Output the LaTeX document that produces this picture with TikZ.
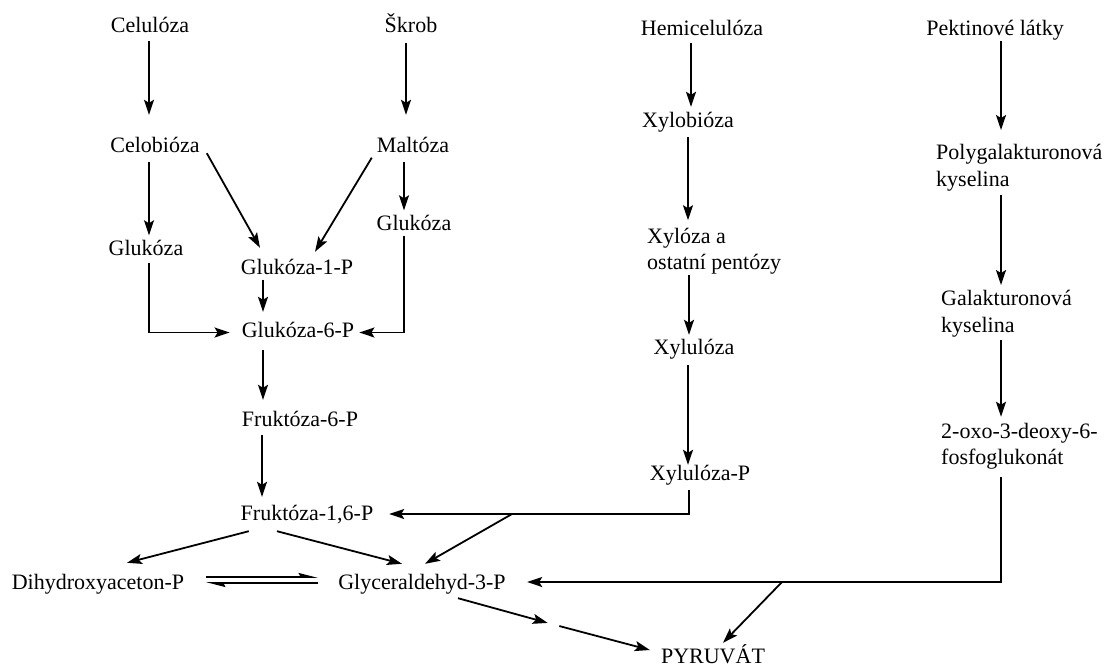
\documentclass[tikz,border=0pt]{standalone}
\usepackage{fontspec}
\setmainfont{Liberation Serif}
\usetikzlibrary{arrows.meta,positioning,calc}
\tikzstyle{substance}=[inner sep=0pt,text height=15pt,text depth=5pt,font=\fontsize{22}{26.5}\selectfont]
\tikzstyle{substance2}=[inner sep=0pt,align=left,anchor=west,font=\fontsize{22}{26.5}\selectfont]
\tikzstyle{reaction}=[line width=1.8pt,-{Stealth[length=15pt,width=10pt,inset=3pt]},shorten <=4pt,shorten >=5pt]
\tikzstyle{equil}=[line width=1.6pt,-{Stealth[harpoon,length=16pt,width=8pt,inset=2pt]}]

\begin{document}
\begin{tikzpicture}[x=1pt,y=-1pt]
      \useasboundingbox (0,0) rectangle (1108,670);
      % sources
      \node[substance] at (150,27.5) (celu) {Celulóza};
      \node[substance] at (411,27.5) (skrob) {Škrob};
      \node[substance] at (702,30.5) (hemi) {Hemicelulóza};
      \node[substance] at (995,30.5) (pekt) {Pektinové látky};
      % intermediates
      \node[substance] at (155,147.5) (celob) {Celobióza};
      \node[substance] at (413,147.5) (malt) {Maltóza};
      \node[substance] at (688,122.5) (xylob) {Xylobióza};
      \node[substance2] at (936,167.5) (polyg) {Polygalakturonová\\kyselina};
      \node[substance] at (146,250.5) (glukL) {Glukóza};
      \node[substance] at (414,225.5) (glukR) {Glukóza};
      \node[substance] at (297,269.5) (g1p) {Glukóza-1-P};
      \node[substance2] at (647,251) (xyl) {Xylóza a\\ostatní pentózy};
      \node[substance] at (298,332.5) (g6p) {Glukóza-6-P};
      \node[substance] at (694,349.5) (xylu) {Xylulóza};
      \node[substance2] at (941,313.5) (galak) {Galakturonová\\kyselina};
      \node[substance] at (300,421.5) (f6p) {Fruktóza-6-P};
      \node[substance2] at (941,446) (kdpg) {2-oxo-3-deoxy-6-\\fosfoglukonát};
      \node[substance] at (700,475.5) (xylup) {Xylulóza-P};
      \node[substance] at (307,515.5) (f16p) {Fruktóza-1,6-P};
      \node[substance] at (98,584.5) (dhap) {Dihydroxyaceton-P};
      \node[substance] at (422,584.5) (gap) {Glyceraldehyd-3-P};
      \node[substance,text depth=0pt] at (713,656) (pyr) {PYRUVÁT};
      \coordinate (jxyl) at (512,514);
      \coordinate (joxo) at (782,582);
      \coordinate (mezi) at (553.5,624.5);
      % cellulose and starch
      \draw[reaction,shorten <=3.5pt,shorten >=22.5pt] ([xshift=-1pt]celu.south) -- ([xshift=-1pt]celu.south |- celob.north);
      \draw[reaction,shorten <=5.5pt,shorten >=22.5pt] ([xshift=-5pt]skrob.south) -- ([xshift=-5pt]skrob.south |- malt.north);
      \draw[reaction] ([xshift=-6pt]celob.south) -- ([xshift=-6pt]celob.south |- glukL.north);
      \draw[reaction] ([xshift=-9pt]malt.south) -- ([xshift=-9pt]malt.south |- glukR.north);
      \draw[reaction,shorten <=0pt,shorten >=0pt] ([xshift=7pt,yshift=4.5pt]celob.south east) -- ([xshift=-37pt,yshift=11.5pt]g1p.north);
      \draw[reaction,shorten <=0pt,shorten >=0pt] ([xshift=-5pt]malt.south west) -- ([xshift=18pt,yshift=7.5pt]g1p.north);
      \draw[reaction,shorten <=2.5pt,shorten >=12pt] ([xshift=3pt]glukL.south) |- (g6p.west);
      \draw[reaction,shorten <=0pt,shorten >=5pt] ([xshift=-10pt]glukR.south) |- (g6p.east);
      \draw[reaction,shorten <=0pt,shorten >=10.5pt] ([xshift=-34pt]g1p.south) -- ([xshift=-34pt]g1p.south |- g6p.north);
      \draw[reaction,shorten <=7.5pt,shorten >=11.5pt] ([xshift=-35pt]g6p.south) -- ([xshift=-35pt]g6p.south |- f6p.north);
      \draw[reaction,shorten <=3.5pt,shorten >=8.5pt] ([xshift=-38pt]f6p.south) -- ([xshift=-38pt]f6p.south |- f16p.north);
      % hemicellulose
      \draw[reaction,shorten <=2.5pt,shorten >=5.5pt] ([xshift=-11pt]hemi.south) -- ([xshift=-11pt]hemi.south |- xylob.north);
      \draw[reaction,shorten <=4.5pt,shorten >=7.3pt] (xylob.south) -- (xylob.south |- xyl.north);
      \draw[reaction,shorten <=0.5pt,shorten >=4.5pt] ([xshift=-5pt]xylu.north |- xyl.south) -- ([xshift=-5pt]xylu.north);
      \draw[reaction,shorten <=5.5pt,shorten >=0.5pt] ([xshift=-6pt]xylu.south) -- ([xshift=-6pt]xylu.south |- xylup.north);
      \draw[reaction,shorten <=4.5pt,shorten >=15.7pt] ([xshift=-11pt]xylup.south) |- ([yshift=1.5pt]f16p.east);
      \draw[reaction,shorten <=0pt,shorten >=0pt] (jxyl) -- ([xshift=3pt,yshift=10.5pt]gap.north);
      % pectin
      \draw[reaction,shorten <=0.5pt,shorten >=14pt] ([xshift=6pt]pekt.south) -- ([xshift=6pt]pekt.south |- polyg.north);
      \draw[reaction,shorten <=4pt,shorten >=5pt] ([xshift=6pt]pekt.south |- polyg.south) -- ([xshift=6pt]pekt.south |- galak.north);
      \draw[reaction,shorten <=3pt,shorten >=5.8pt] ([xshift=6pt]pekt.south |- galak.south) -- ([xshift=6pt]pekt.south |- kdpg.north);
      \draw[reaction,shorten <=7.8pt,shorten >=21.3pt] ([xshift=6pt]pekt.south |- kdpg.south) |- ([yshift=2.5pt]gap.east);
      \draw[reaction,shorten <=0pt,shorten >=0pt] (joxo) -- ([xshift=10pt,yshift=5.5pt]pyr.north);
      % glycolysis
      \draw[reaction,shorten <=0pt,shorten >=0pt] ([xshift=8.3pt,yshift=-5.5pt]f16p.south west) -- ([xshift=29pt,yshift=11.5pt]dhap.north);
      \draw[reaction,shorten <=0pt,shorten >=0pt] ([xshift=-30pt,yshift=-5.5pt]f16p.south) -- ([xshift=-20pt,yshift=10.5pt]gap.north);
      \draw[equil,shorten <=21.8pt,shorten >=20.3pt] ([yshift=7.5pt]dhap.east) -- ([yshift=7.5pt]gap.west);
      \draw[equil,shorten <=20.3pt,shorten >=21.8pt] ([yshift=1.5pt]gap.west) -- ([yshift=1.5pt]dhap.east);
      \draw[reaction,shorten <=0pt,shorten >=6pt] ([xshift=36pt,yshift=-3.5pt]gap.south) -- (mezi);
      \draw[reaction,shorten <=6pt,shorten >=0pt] (mezi) -- ([xshift=-11pt,yshift=6pt]pyr.west);
\end{tikzpicture}
\end{document}
